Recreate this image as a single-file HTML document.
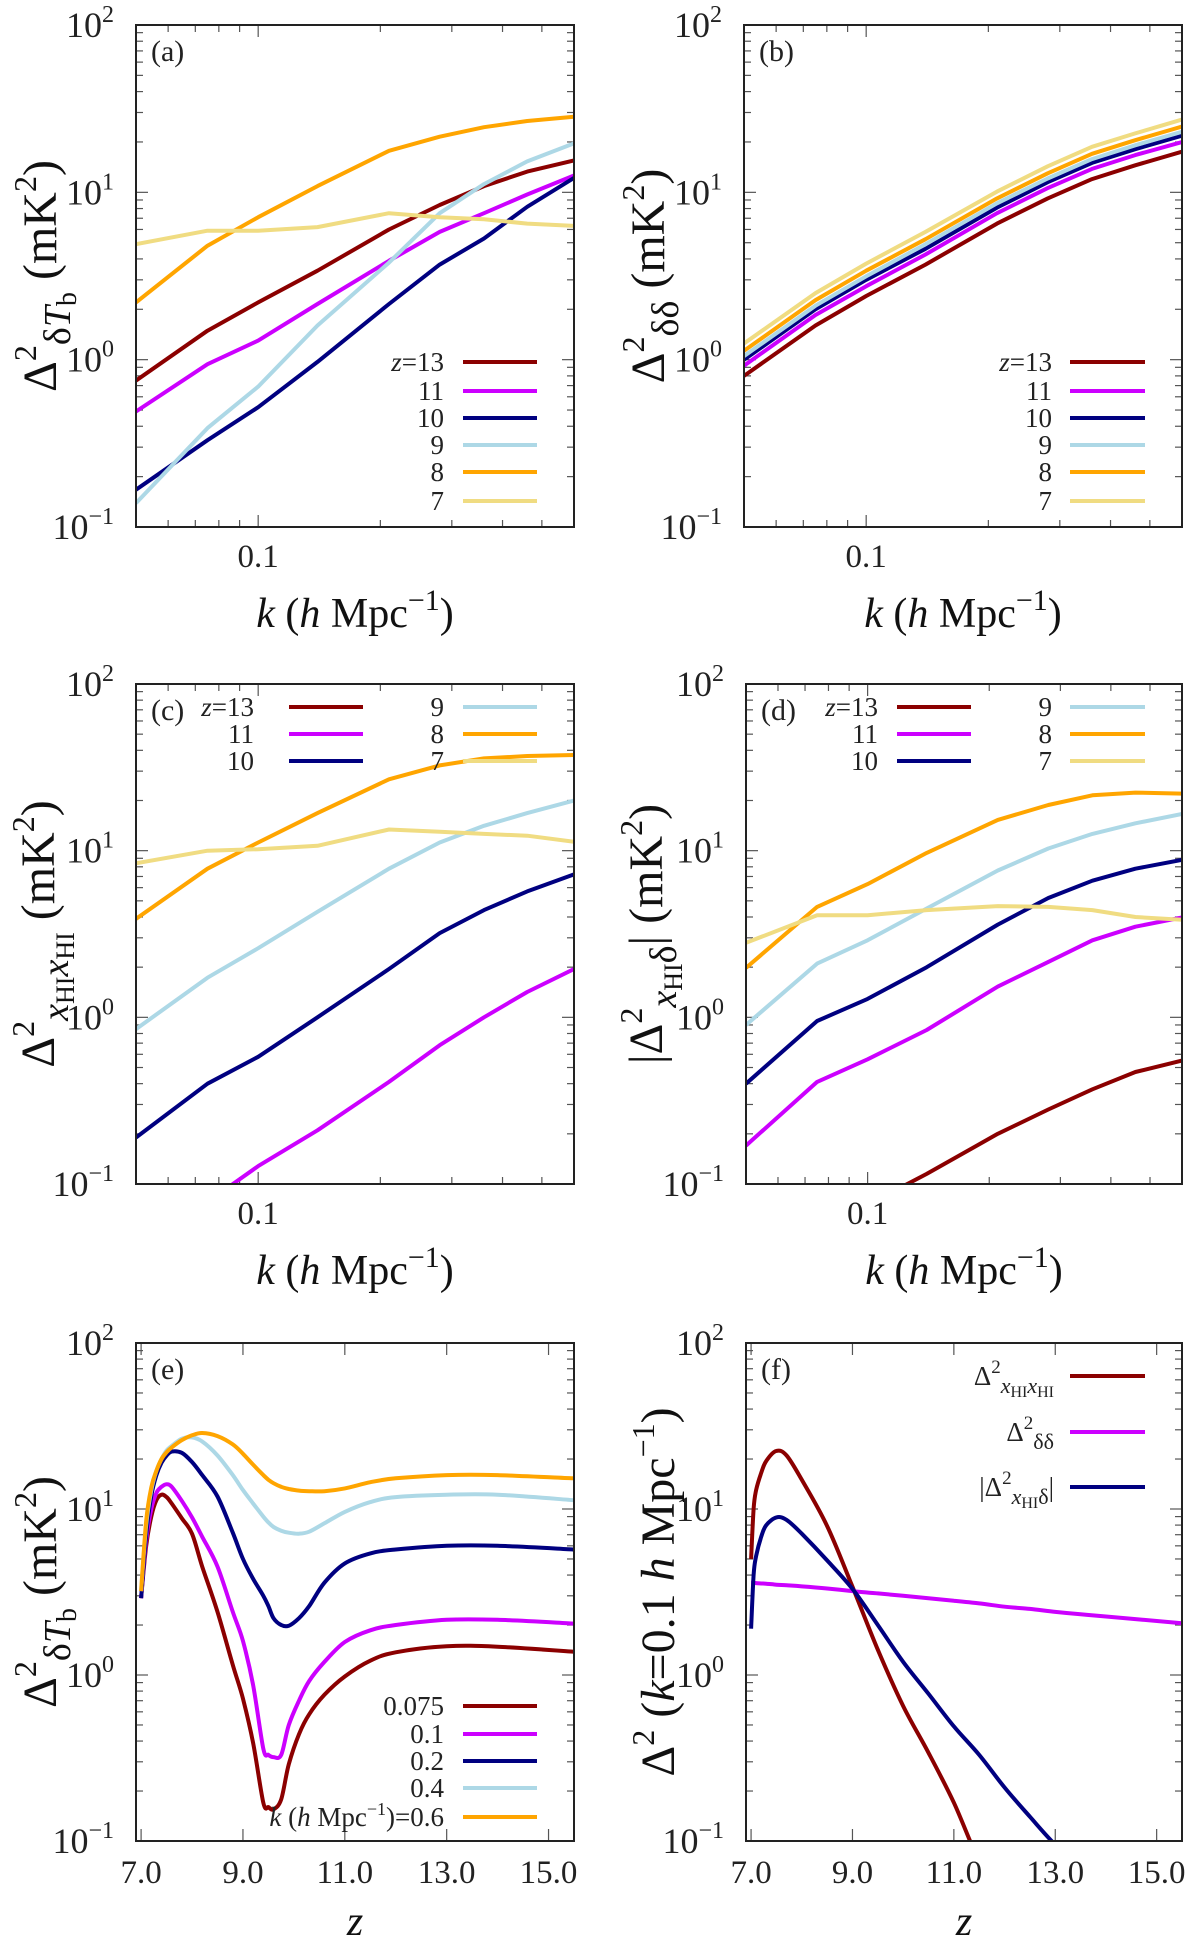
<!DOCTYPE html>
<html><head><meta charset="utf-8"><style>
html,body{margin:0;padding:0;background:#fff;overflow:hidden;width:1200px;height:1940px;}
svg{display:block;font-family:"Liberation Serif",serif;}
</style></head><body>
<svg id="fig" width="1200" height="1940" viewBox="0 0 1200 1940" xmlns="http://www.w3.org/2000/svg"></svg>
<script>
// ---------- data ----------
const kVals=[0.05,0.075,0.1,0.14,0.21,0.28,0.36,0.46,0.6];
const zLabels=["13","11","10","9","8","7"];
const colors=["#8b0000","#cc00ff","#000080","#add8e6","#ffa500","#f0dc82"];

const a_z13=[0.75,1.49,2.2,3.4,6.0,8.4,10.9,13.3,15.5];
const a_z11=[0.49,0.94,1.3,2.15,3.9,5.8,7.5,9.7,12.6];
const a_z10=[0.167,0.33,0.52,0.97,2.15,3.7,5.3,8.2,12.2];
const a_z9=[0.139,0.39,0.69,1.6,3.8,7.5,11.2,15.3,19.6];
const a_z8=[2.2,4.8,7.1,10.9,17.7,21.5,24.5,26.7,28.3];
const a_z7=[4.9,5.9,5.9,6.2,7.5,7.1,6.9,6.5,6.3];

const b_z13=[0.8,1.6,2.4,3.7,6.5,9.2,12,14.5,17.5];
const b_z11=[0.92,1.85,2.75,4.25,7.5,10.6,13.8,16.7,20];
const b_z10=[1.0,2.0,3.0,4.6,8.1,11.5,15,18.1,21.8];
const b_z9=[1.05,2.1,3.15,4.9,8.6,12.1,15.8,19.1,23];
const b_z8=[1.13,2.27,3.4,5.25,9.2,13,17,20.5,24.7];
const b_z7=[1.25,2.5,3.75,5.8,10.1,14.3,18.7,22.5,27.2];

const c_z13=[0.001,0.002,0.003,0.005,0.008,0.012,0.018,0.025,0.035];
const c_z11=[0.04,0.078,0.128,0.21,0.41,0.68,1.0,1.42,1.95];
const c_z10=[0.19,0.40,0.58,1.0,1.95,3.2,4.4,5.7,7.2];
const c_z9=[0.85,1.73,2.6,4.3,7.8,11.2,14.1,16.8,20];
const c_z8=[3.9,7.8,11.2,16.8,26.8,32.5,35.8,37,37.5];
const c_z7=[8.4,10,10.2,10.7,13.4,13,12.6,12.3,11.3];

const d_z13=[0.03,0.05,0.075,0.115,0.20,0.28,0.37,0.47,0.55];
const d_z11=[0.17,0.41,0.56,0.84,1.53,2.15,2.9,3.5,3.98];
const d_z10=[0.40,0.95,1.29,2.0,3.6,5.2,6.6,7.8,8.8];
const d_z9=[0.9,2.1,2.9,4.5,7.6,10.3,12.6,14.6,16.6];
const d_z8=[1.98,4.6,6.3,9.7,15.3,18.8,21.5,22.3,22];
const d_z7=[2.8,4.1,4.1,4.4,4.65,4.6,4.4,4.0,3.85];

const zE=[7.0,7.1,7.2,7.3,7.4,7.5,7.6,7.8,8.0,8.2,8.5,8.8,9.0,9.2,9.4,9.5,9.6,9.75,9.9,10.1,10.3,10.6,11.0,11.5,12,13,14,15.5];
const eLabels=["0.075","0.1","0.2","0.4","0.6"];
const e_k075=[2.9,6.0,9.0,11.3,12.2,11.8,10.8,8.8,7.1,4.5,2.4,1.15,0.72,0.39,0.17,0.16,0.155,0.178,0.29,0.44,0.58,0.76,0.98,1.22,1.37,1.49,1.48,1.38];
const e_k01=[2.9,6.5,10,12.5,13.6,14.1,13.6,11.2,8.9,6.8,4.5,2.4,1.6,0.87,0.36,0.33,0.32,0.33,0.5,0.7,0.92,1.2,1.58,1.86,2.0,2.15,2.15,2.04];
const e_k02=[2.9,7,12,16,19,21,22.2,21.8,19.2,16,11.9,7.2,5.0,3.8,3.0,2.6,2.2,2.0,1.98,2.2,2.6,3.6,4.7,5.4,5.7,6.0,6.0,5.7];
const e_k04=[3.2,8,13,17,20,22.5,24,26.5,27,25.5,21,16,13,10.8,9.0,8.3,7.8,7.4,7.2,7.1,7.3,8.2,9.6,11.0,11.8,12.2,12.2,11.3];
const e_k06=[3.2,8.5,13.5,17,20,22,23.5,26,27.8,28.7,27.5,24.5,21.5,18.5,16,15,14.3,13.6,13.2,12.9,12.8,12.8,13.3,14.5,15.3,16.0,16.0,15.3];

const zF=[7.0,7.05,7.1,7.2,7.3,7.5,7.7,8.0,8.5,9.0,9.5,10,10.5,11,11.5,12,12.5,13,13.5,14,15.5];
const f_xx=[5.0,10,13,16.5,19.5,22.4,21,15,7.9,3.4,1.42,0.65,0.34,0.17,0.075,0.04,0.02,0.01,0.006,0.004,0.001];
const f_dd=[3.6,3.59,3.58,3.56,3.55,3.5,3.47,3.42,3.32,3.2,3.1,3.0,2.9,2.8,2.7,2.58,2.5,2.4,2.32,2.25,2.05];
const f_xd=[1.9,4.0,5.2,6.8,8.0,8.9,8.6,7.1,4.9,3.3,2.0,1.2,0.77,0.49,0.33,0.21,0.14,0.095,0.07,0.05,0.025];

const yTickVals=[0.1,1,10,100];
const yTickExp=["−1","0","1","2"];
const kTickVals=[0.1];
const kTickLabels=["0.1"];
const zTickVals=[7,9,11,13,15];
const zTickLabels=["7.0","9.0","11.0","13.0","15.0"];

// ---------- drawing ----------
const NS="http://www.w3.org/2000/svg";
const svg=document.getElementById('fig');
function mk(tag,attrs,parent){const e=document.createElementNS(NS,tag);for(const k in attrs)e.setAttribute(k,attrs[k]);(parent||svg).appendChild(e);return e;}
function L10(v){return Math.log(v)/Math.LN10;}

function makePanel(id,x0,x1,y0,y1,xtype){
  const g=mk('g',{});
  
  
  const P={g,x0,x1,y0,y1,xtype};
  if(xtype==='k'){P.xs=v=>x0+(L10(v)-L10(0.05))/(L10(0.6)-L10(0.05))*(x1-x0);}
  else{P.xs=v=>x0+(v-6.9)/(15.5-6.9)*(x1-x0);}
  P.ys=v=>y1-(L10(v)+1)/3*(y1-y0);
  const cp=mk('clipPath',{id:'clip-'+id},g);
  mk('rect',{x:x0,y:y0,width:x1-x0,height:y1-y0},cp);
  for(let d=-1;d<2;d++){for(let m=1;m<10;m++){
    const v=m*Math.pow(10,d);const y=P.ys(v);const len=m===1?12:7;
    const t1=mk('line',{x1:x0,x2:x0+len,y1:y,y2:y,stroke:'#555','stroke-width':1.2},g);
    
    const t2=mk('line',{x1:x1,x2:x1-len,y1:y,y2:y,stroke:'#555','stroke-width':1.2},g);
    
  }}
  yTickVals.forEach((v,i)=>{
    const t=mk('text',{x:x0-22,y:P.ys(v)+12,'text-anchor':'end','font-size':36,fill:'#222'},g);
    
    t.innerHTML='10<tspan dy="-15" font-size="24">'+yTickExp[i]+'</tspan>';
  });
  if(xtype==='k'){
    const vals=[0.06,0.07,0.08,0.09,0.1,0.2,0.3,0.4,0.5,0.6];
    vals.forEach(v=>{const x=P.xs(v);const len=v===0.1?12:7;
      const a=mk('line',{x1:x,x2:x,y1:y1,y2:y1-len,stroke:'#555','stroke-width':1.2},g);
      
      const b=mk('line',{x1:x,x2:x,y1:y0,y2:y0+len,stroke:'#555','stroke-width':1.2},g);
      });
    kTickVals.forEach((v,i)=>{const t=mk('text',{x:P.xs(v),y:y1+40,'text-anchor':'middle','font-size':33,fill:'#222'},g);
      t.textContent=kTickLabels[i];});
    const xl=mk('text',{x:(x0+x1)/2,y:y1+100,'text-anchor':'middle','font-size':42,fill:'#111'},g);
    
    xl.innerHTML='<tspan font-style="italic">k</tspan> (<tspan font-style="italic">h</tspan> Mpc<tspan dy="-17" font-size="30">−1</tspan><tspan dy="17">)</tspan>';
  }else{
    zTickVals.forEach((v,i)=>{const x=P.xs(v);
      const a=mk('line',{x1:x,x2:x,y1:y1,y2:y1-12,stroke:'#555','stroke-width':1.2},g);
      
      const b=mk('line',{x1:x,x2:x,y1:y0,y2:y0+12,stroke:'#555','stroke-width':1.2},g);
      
      const t=mk('text',{x:x,y:y1+42,'text-anchor':'middle','font-size':33,fill:'#222'},g);
      t.textContent=zTickLabels[i];});
    const xl=mk('text',{x:(x0+x1)/2,y:y1+94,'text-anchor':'middle','font-size':42,'font-style':'italic',fill:'#111'},g);
    xl.textContent='z';
  }
  P.lines=mk('g',{'clip-path':'url(#clip-'+id+')'},g);
  const fr=mk('rect',{x:x0,y:y0,width:x1-x0,height:y1-y0,fill:'none',stroke:'#222','stroke-width':2},g);
  
  const lt=mk('text',{x:x0+15,y:y0+36,'font-size':30,fill:'#222'},g);
  lt.textContent='('+id+')';
  return P;
}
function smoothPath(pts){
  let d='M'+pts[0][0].toFixed(1)+','+pts[0][1].toFixed(1);
  for(let i=0;i<pts.length-1;i++){
    const p0=pts[Math.max(0,i-1)],p1=pts[i],p2=pts[i+1],p3=pts[Math.min(pts.length-1,i+2)];
    const c1=[p1[0]+(p2[0]-p0[0])/6,p1[1]+(p2[1]-p0[1])/6];
    const c2=[p2[0]-(p3[0]-p1[0])/6,p2[1]-(p3[1]-p1[1])/6];
    d+=' C'+c1.map(v=>v.toFixed(1))+' '+c2.map(v=>v.toFixed(1))+' '+p2[0].toFixed(1)+','+p2[1].toFixed(1);
  }
  return d;
}
function series(P,xs,ys,color,name,smooth){
  const pts=xs.map((x,i)=>[P.xs(x),P.ys(ys[i])]);
  let d;
  if(smooth)d=smoothPath(pts);else d='M'+pts.map(p=>p[0].toFixed(1)+','+p[1].toFixed(1)).join(' L');
  const p=mk('path',{d:d,fill:'none',stroke:color,'stroke-width':4,'stroke-linejoin':'round'},P.lines);
  
  
}
function legendEntry(parent,tx,lx1,lx2,y,html,color){
  const g=mk('g',{},parent);
  
  
  const t=mk('text',{x:tx,y:y+9,'text-anchor':'end','font-size':27,fill:'#222'},g);
  t.innerHTML=html;
  mk('line',{x1:lx1,x2:lx2,y1:y,y2:y,stroke:color,'stroke-width':4},g);
}
function ylabel(x,y,html){
  const t=mk('text',{transform:'translate('+x+','+y+') rotate(-90)','text-anchor':'middle','font-size':48,fill:'#111'});
  
  
  t.innerHTML=html;
}
const zl=(s)=> s==="13"?'<tspan font-style="italic">z</tspan>=13':s;
const SUP2='<tspan dy="-20" font-size="32">2</tspan>';

// panel a
const Pa=makePanel('a',136,574,25,527,'k');
[a_z13,a_z11,a_z10,a_z9,a_z8,a_z7].forEach((s,i)=>series(Pa,kVals,s,colors[i],'line-z'+zLabels[i],false));
[362,391,418,445,472,501].forEach((y,i)=>legendEntry(Pa.g,444,463,537,y,zl(zLabels[i]),colors[i]));
ylabel(56,276,'Δ'+SUP2+'<tspan dy="34" font-size="38">δ<tspan font-style="italic">T</tspan></tspan><tspan dy="6" font-size="28">b</tspan><tspan dy="-20"> (mK</tspan>'+SUP2+'<tspan dy="20">)</tspan>');

// panel b
const Pb=makePanel('b',744,1182,25,527,'k');
[b_z13,b_z11,b_z10,b_z9,b_z8,b_z7].forEach((s,i)=>series(Pb,kVals,s,colors[i],'line-z'+zLabels[i],false));
[362,391,418,445,472,501].forEach((y,i)=>legendEntry(Pb.g,1052,1070,1145,y,zl(zLabels[i]),colors[i]));
ylabel(664,276,'Δ'+SUP2+'<tspan dy="34" font-size="38">δδ</tspan><tspan dy="-14"> (mK</tspan>'+SUP2+'<tspan dy="20">)</tspan>');

// panel c
const Pc=makePanel('c',136,574,684,1184,'k');
[c_z13,c_z11,c_z10,c_z9,c_z8,c_z7].forEach((s,i)=>series(Pc,kVals,s,colors[i],'line-z'+zLabels[i],false));
[707,734,761].forEach((y,i)=>legendEntry(Pc.g,254,289,363,y,zl(zLabels[i]),colors[i]));
[707,734,761].forEach((y,i)=>legendEntry(Pc.g,444,463,537,y,zl(zLabels[i+3]),colors[i+3]));
ylabel(54,934,'Δ'+SUP2+'<tspan dy="34" font-size="38" font-style="italic">x</tspan><tspan dy="6" font-size="26">HI</tspan><tspan dy="-6" font-size="38" font-style="italic">x</tspan><tspan dy="6" font-size="26">HI</tspan><tspan dy="-20"> (mK</tspan>'+SUP2+'<tspan dy="20">)</tspan>');

// panel d
const Pd=makePanel('d',746,1182,684,1184,'k');
[d_z13,d_z11,d_z10,d_z9,d_z8,d_z7].forEach((s,i)=>series(Pd,kVals,s,colors[i],'line-z'+zLabels[i],false));
[707,734,761].forEach((y,i)=>legendEntry(Pd.g,878,897,971,y,zl(zLabels[i]),colors[i]));
[707,734,761].forEach((y,i)=>legendEntry(Pd.g,1052,1070,1145,y,zl(zLabels[i+3]),colors[i+3]));
ylabel(662,934,'|Δ'+SUP2+'<tspan dy="34" font-size="38" font-style="italic">x</tspan><tspan dy="6" font-size="26">HI</tspan><tspan dy="-6" font-size="38">δ</tspan><tspan dy="-14">| (mK</tspan>'+SUP2+'<tspan dy="20">)</tspan>');

// panel e
const Pe=makePanel('e',136,574,1343,1841,'z');
[e_k075,e_k01,e_k02,e_k04,e_k06].forEach((s,i)=>series(Pe,zE,s,colors[i],'line-k'+eLabels[i],true));
const eLeg=[1706,1734,1761,1788,1817];
eLeg.forEach((y,i)=>{
  const html = i===4 ? '<tspan font-style="italic">k</tspan> (<tspan font-style="italic">h</tspan> Mpc<tspan dy="-11" font-size="18">−1</tspan><tspan dy="11">)=0.6</tspan>' : eLabels[i];
  legendEntry(Pe.g,444,463,537,y,html,colors[i]);
});
ylabel(56,1592,'Δ'+SUP2+'<tspan dy="34" font-size="38">δ<tspan font-style="italic">T</tspan></tspan><tspan dy="6" font-size="28">b</tspan><tspan dy="-20"> (mK</tspan>'+SUP2+'<tspan dy="20">)</tspan>');

// panel f
const Pf=makePanel('f',746,1182,1343,1841,'z');
series(Pf,zF,f_xx,colors[0],'line-xhi-xhi',true);
series(Pf,zF,f_dd,colors[1],'line-delta-delta',true);
series(Pf,zF,f_xd,colors[2],'line-xhi-delta',true);
legendEntry(Pf.g,1054,1070,1145,1376,'Δ<tspan dy="-12" font-size="19">2</tspan><tspan dy="20" font-size="22" font-style="italic">x</tspan><tspan dy="4" font-size="16">HI</tspan><tspan dy="-4" font-size="22" font-style="italic">x</tspan><tspan dy="4" font-size="16">HI</tspan>',colors[0]);
legendEntry(Pf.g,1054,1070,1145,1432,'Δ<tspan dy="-12" font-size="19">2</tspan><tspan dy="20" font-size="22">δδ</tspan>',colors[1]);
legendEntry(Pf.g,1054,1070,1145,1487,'|Δ<tspan dy="-12" font-size="19">2</tspan><tspan dy="20" font-size="22" font-style="italic">x</tspan><tspan dy="4" font-size="16">HI</tspan><tspan dy="-4" font-size="22">δ</tspan><tspan dy="-8">|</tspan>',colors[2]);
ylabel(674,1592,'Δ'+SUP2+'<tspan dy="20"> (<tspan font-style="italic">k</tspan>=0.1 <tspan font-style="italic">h</tspan> Mpc</tspan><tspan dy="-20" font-size="32">−1</tspan><tspan dy="20">)</tspan>');
</script>
</body></html>
